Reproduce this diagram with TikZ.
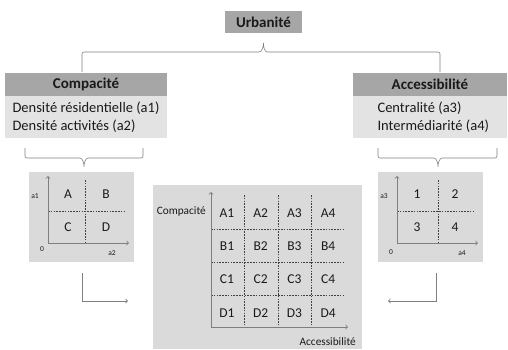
\documentclass[tikz,border=0pt]{standalone}
\usepackage{fontspec}
\setmainfont{Carlito}
\usetikzlibrary{arrows,positioning}

\definecolor{hdrgray}{HTML}{A6A6A6}
\definecolor{bodygray}{HTML}{E3E3E3}
\definecolor{boxgray}{HTML}{DADADA}
\definecolor{linegray}{HTML}{7F7F7F}
\definecolor{txtgray}{HTML}{1A1A1A}

\tikzset{
  hdr/.style={fill=hdrgray,inner sep=0pt,font=\bfseries\fontsize{15}{17}\selectfont,text=txtgray},
  bodybox/.style={fill=bodygray,inner sep=0pt},
  plotbox/.style={fill=boxgray,inner sep=0pt},
  brace/.style={draw=linegray,line width=0.6pt,rounded corners=2pt},
  conn/.style={draw=linegray,line width=0.8pt,->},
  axis/.style={draw=linegray,line width=0.8pt},
  grid/.style={draw=black!75,line width=0.5pt,dash pattern=on 1.6pt off 1.2pt},
  cell/.style={text=txtgray,font=\fontsize{13.5}{15}\selectfont},
  small/.style={text=txtgray,font=\fontsize{7.5}{8}\selectfont},
  label/.style={text=txtgray,font=\fontsize{11.3}{13}\selectfont,anchor=east,inner sep=0pt},
  bodytext/.style={align=left,text=txtgray,font=\fontsize{14.5}{18}\selectfont},
}

\begin{document}
\begin{tikzpicture}[x=1pt,y=-1pt]
\useasboundingbox (0,0) rectangle (508,349);

% top level
\node[hdr,minimum width=77pt,minimum height=22pt] (urb) at (263.5,22) {Urbanité};

% Compacite
\node[hdr,minimum width=162pt,minimum height=23pt] (comph) at (86,84.5) {Compacité};
\node[bodybox,minimum width=162pt,minimum height=42pt,below=0pt of comph] (compb) {};
\node[bodytext] (compt) at (compb) {Densité résidentielle (a1)\\Densité activités (a2)};

% Accessibilite
\node[hdr,minimum width=154pt,minimum height=23pt] (acch) at (430,84.5) {Accessibilité};
\node[bodybox,minimum width=154pt,minimum height=42pt,below=0pt of acch] (accb) {};
\node[bodytext,anchor=west] (acct) at (374,117) {Centralité (a3)\\Intermédiarité (a4)};

% braces
\coordinate (tb1) at (82,72);
\coordinate (tb2) at (440,72);
\draw[brace] (tb1) -- (82,52) -- (257,52) to[out=0,in=-90] (urb.south |- 0,42) to[out=-90,in=180] (269,52) -- (440,52) -- (tb2);
\coordinate (lb1) at (25,148);
\coordinate (lb2) at (143,148);
\draw[brace] (lb1) -- (25,158) -- (78,158) to[out=0,in=90] (84,168) to[out=90,in=180] (90,158) -- (143,158) -- (lb2);
\coordinate (rb1) at (378,148);
\coordinate (rb2) at (497,148);
\draw[brace] (rb1) -- (378,158) -- (432,158) to[out=0,in=90] (438,168) to[out=90,in=180] (444,158) -- (497,158) -- (rb2);

% left plot
\node[plotbox,minimum width=105pt,minimum height=90pt] (plotl) at (81.5,217) {};
\draw[grid] (48,211) -- (125,211);
\draw[grid] (85,180) -- (85,243);
\draw[axis,<->] (48,176) -- (48,243) -- (129,243);
\node[cell] (la) at (68,194) {A};
\node[cell] (lb) at (106,194) {B};
\node[cell] (lc) at (68,227) {C};
\node[cell] (ld) at (106,227) {D};
\node[small] (la1) at (35,196) {a1};
\node[small] (l0) at (42,249) {0};
\node[small] (la2) at (112,253) {a2};

% right plot
\node[plotbox,minimum width=105pt,minimum height=90pt] (plotr) at (430.5,217) {};
\draw[grid] (397,211) -- (474,211);
\draw[grid] (438,180) -- (438,243);
\draw[axis,<->] (397,176) -- (397,243) -- (478,243);
\node[cell] (r1) at (417,194) {1};
\node[cell] (r2) at (455,194) {2};
\node[cell] (r3) at (417,227) {3};
\node[cell] (r4) at (455,227) {4};
\node[small] (ra3) at (384,196) {a3};
\node[small] (r0) at (391,252) {0};
\node[small] (ra4) at (462,253) {a4};

% center grid
\node[plotbox,minimum width=209pt,minimum height=164pt] (cen) at (257.5,267) {};
\foreach \y in {229,262,295}
  \draw[grid] (211,\y) -- (345,\y);
\foreach \x in {244,278,311}
  \draw[grid] (\x,195) -- (\x,327);
\draw[axis,<->] (211,192) -- (211,327) -- (348,327);
\foreach \r [count=\i] in {A,B,C,D}
  \foreach \c in {1,...,4}
    \node[cell] (c\r\c) at ({227+33.7*(\c-1)},{213+33.3*(\i-1)}) {\r\c};
\node[label] (cy) at (206,212) {Compacité};
\node[label] (cx) at (356,342) {Accessibilité};

% arrows to the center
\coordinate (al) at (128,301);
\coordinate (ar) at (388,301);
\draw[conn] (82,273) |- (al);
\draw[conn] (436,273) |- (ar);

\end{tikzpicture}
\end{document}
